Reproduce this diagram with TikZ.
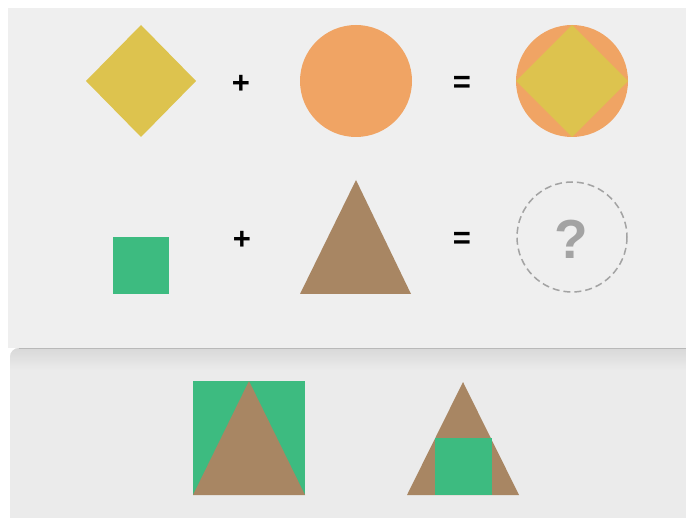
\documentclass[tikz,border=0pt]{standalone}
\usepackage{fontspec}
\setmainfont{Liberation Sans}
\usepackage{tikz}
\usetikzlibrary{calc}

\definecolor{paper}{HTML}{EFEFEF}
\definecolor{lowpaper}{HTML}{EBEBEB}
\definecolor{shadowgray}{HTML}{D8D8D8}
\definecolor{mustard}{HTML}{DDC34E}
\definecolor{apricot}{HTML}{F0A464}
\definecolor{mint}{HTML}{3DBB80}
\definecolor{clay}{HTML}{A88663}
\definecolor{hintgray}{HTML}{A3A3A3}

\begin{document}
\begin{tikzpicture}[
  x=1pt, y=-1pt,
  opsign/.style={font=\fontsize{31}{31}\selectfont\bfseries, text=black, inner sep=0pt},
  diamondfill/.style={fill=mustard},
  circlefill/.style={fill=apricot},
  squarefill/.style={fill=mint},
  trianglefill/.style={fill=clay},
  hintring/.style={draw=hintgray, dash pattern=on 7pt off 4pt, line width=1.5pt}
]
\useasboundingbox (0,0) rectangle (690,518);
\fill[white] (0,0) rectangle (690,518);

% upper panel
\fill[paper] (8,8) rectangle (686,348);

% lower panel with soft shadow on top
\begin{scope}
  \clip (10,518) -- (10,357) arc[start angle=180, end angle=270, radius=9] -- (686,348) -- (686,518) -- cycle;
  \fill[lowpaper] (10,348) rectangle (686,518);
  \foreach \k in {0,...,21}{
    \pgfmathsetmacro{\mix}{100-\k*100/22}
    \fill[shadowgray!\mix!lowpaper] (10,348+\k) rectangle (686,349+\k);
  }
\end{scope}
\draw[gray!55, line width=0.6pt] (19,348) -- (686,348);

% first row: diamond + circle = both
\fill[diamondfill] (141,25) -- (196,81) -- (141,137) -- (86,81) -- cycle;
\node[opsign] (plusA) at (241,84) {+};
\fill[circlefill] (356,81) circle[radius=56];
\node[opsign] (equalsA) at (462,84) {=};
\fill[circlefill] (572,81) circle[radius=56];
\fill[diamondfill] (572,25) -- (628,81) -- (572,137) -- (516,81) -- cycle;

% second row: square + triangle = ?
\fill[squarefill] (113,237) rectangle (169,294);
\node[opsign] (plusB) at (242,240) {+};
\fill[trianglefill] (356,180) -- (411,294) -- (300,294) -- cycle;
\node[opsign] (equalsB) at (462,240) {=};
\draw[hintring] (572,237) circle[radius=55];
\node[font=\fontsize{55}{55}\selectfont\bfseries, text=hintgray, inner sep=0pt] (guess) at (571,239) {?};

% answer choices
\fill[squarefill] (193,381) rectangle (305,495);
\fill[trianglefill] (249,381) -- (305,495) -- (193,495) -- cycle;

\fill[trianglefill] (463,382) -- (519,495) -- (407,495) -- cycle;
\fill[squarefill] (435,438) rectangle (492,495);
\end{tikzpicture}
\end{document}
